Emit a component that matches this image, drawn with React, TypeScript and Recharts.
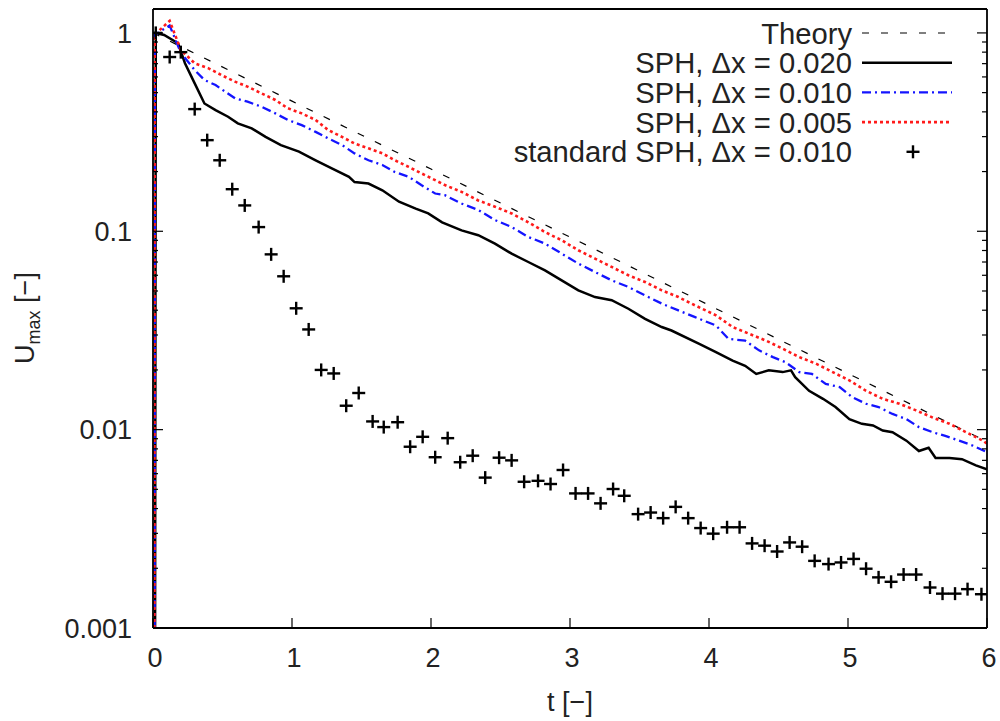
import React from "react";
import { ComposedChart, Line, Scatter, XAxis, YAxis, Customized } from "recharts";

// theory: straight line on log axis
const T_THEORY = [0, 1, 2, 3, 4, 5, 6];
const U_THEORY = [1, 0.453, 0.206, 0.0935, 0.0424, 0.0192, 0.0087];

// SPH, dx = 0.020 (black solid)
const T_020 = [0.015, 0.02, 0.08, 0.18, 0.23, 0.3, 0.37, 0.45, 0.54, 0.61, 0.71, 0.81, 0.92, 1.05, 1.17, 1.29, 1.41, 1.45, 1.55, 1.65, 1.77, 1.89, 1.98, 2.08, 2.22, 2.34, 2.46, 2.58, 2.7, 2.82, 2.94, 3.06, 3.18, 3.3, 3.42, 3.54, 3.66, 3.73, 3.93, 4.05, 4.17, 4.26, 4.34, 4.43, 4.53, 4.59, 4.62, 4.72, 4.82, 4.91, 5.01, 5.1, 5.18, 5.25, 5.32, 5.42, 5.51, 5.58, 5.63, 5.73, 5.82, 5.92, 6.0];
const U_020 = [0.001, 1.0, 0.977, 0.887, 0.703, 0.557, 0.441, 0.408, 0.378, 0.35, 0.33, 0.299, 0.272, 0.252, 0.228, 0.207, 0.188, 0.177, 0.174, 0.161, 0.141, 0.13, 0.123, 0.111, 0.101, 0.0955, 0.0867, 0.0771, 0.07, 0.0635, 0.0566, 0.0504, 0.0466, 0.0449, 0.0407, 0.0362, 0.0329, 0.0316, 0.0271, 0.0246, 0.0223, 0.021, 0.0191, 0.0199, 0.0195, 0.0199, 0.0184, 0.0157, 0.0143, 0.013, 0.0113, 0.0107, 0.0105, 0.0099, 0.0097, 0.0088, 0.0078, 0.0081, 0.0072, 0.0072, 0.0071, 0.0066, 0.0063];

// SPH, dx = 0.010 (blue dash-dot)
const T_010 = [0.012, 0.014, 0.12, 0.2, 0.3, 0.37, 0.45, 0.52, 0.59, 0.68, 0.78, 0.88, 0.97, 1.07, 1.17, 1.26, 1.36, 1.45, 1.55, 1.65, 1.74, 1.84, 1.93, 2.03, 2.1, 2.22, 2.34, 2.46, 2.58, 2.7, 2.82, 2.94, 3.06, 3.18, 3.3, 3.42, 3.54, 3.66, 3.78, 3.9, 4.05, 4.14, 4.26, 4.36, 4.46, 4.55, 4.65, 4.74, 4.84, 4.94, 5.03, 5.13, 5.22, 5.32, 5.42, 5.51, 5.61, 5.7, 5.8, 5.9, 6.0];
const U_010 = [0.001, 0.98, 1.09, 0.793, 0.65, 0.579, 0.546, 0.505, 0.468, 0.45, 0.425, 0.393, 0.364, 0.343, 0.317, 0.294, 0.272, 0.247, 0.228, 0.216, 0.199, 0.188, 0.171, 0.155, 0.152, 0.138, 0.128, 0.114, 0.105, 0.0936, 0.0867, 0.0772, 0.0687, 0.0623, 0.0566, 0.0524, 0.0475, 0.0432, 0.0399, 0.0369, 0.0335, 0.0287, 0.0281, 0.0251, 0.0232, 0.0219, 0.0195, 0.0191, 0.017, 0.0164, 0.0146, 0.0135, 0.013, 0.012, 0.0113, 0.0103, 0.0097, 0.0093, 0.0088, 0.0083, 0.0077];

// SPH, dx = 0.005 (red dotted)
const T_005 = [0.01, 0.012, 0.12, 0.2, 0.3, 0.4, 0.49, 0.59, 0.68, 0.78, 0.88, 0.97, 1.07, 1.17, 1.26, 1.36, 1.45, 1.55, 1.65, 1.74, 1.84, 1.93, 2.03, 2.1, 2.22, 2.34, 2.46, 2.58, 2.7, 2.82, 2.94, 3.06, 3.18, 3.3, 3.42, 3.54, 3.66, 3.78, 3.9, 4.05, 4.17, 4.29, 4.41, 4.53, 4.65, 4.77, 4.89, 5.01, 5.13, 5.25, 5.37, 5.49, 5.61, 5.73, 5.85, 5.97, 6.0];
const U_005 = [0.001, 0.98, 1.15, 0.821, 0.703, 0.663, 0.614, 0.568, 0.536, 0.496, 0.459, 0.417, 0.393, 0.364, 0.324, 0.299, 0.277, 0.262, 0.247, 0.228, 0.211, 0.196, 0.181, 0.171, 0.158, 0.143, 0.133, 0.123, 0.111, 0.0991, 0.0901, 0.0802, 0.0728, 0.0661, 0.06, 0.0555, 0.0504, 0.0466, 0.0423, 0.0377, 0.0329, 0.0304, 0.0281, 0.0256, 0.0232, 0.0215, 0.0195, 0.0177, 0.0157, 0.0143, 0.0135, 0.0125, 0.0115, 0.0107, 0.0097, 0.0088, 0.0085];

// standard SPH, dx = 0.010 (crosses)
const T_STD = [0.02, 0.12, 0.2, 0.3, 0.39, 0.48, 0.57, 0.66, 0.76, 0.85, 0.94, 1.03, 1.12, 1.21, 1.3, 1.39, 1.48, 1.58, 1.66, 1.76, 1.85, 1.94, 2.03, 2.12, 2.21, 2.3, 2.39, 2.49, 2.58, 2.67, 2.77, 2.86, 2.95, 3.04, 3.13, 3.22, 3.31, 3.39, 3.49, 3.58, 3.67, 3.76, 3.85, 3.94, 4.03, 4.13, 4.22, 4.31, 4.4, 4.49, 4.58, 4.67, 4.76, 4.86, 4.95, 5.04, 5.13, 5.22, 5.31, 5.4, 5.49, 5.59, 5.68, 5.77, 5.86, 5.96];
const U_STD = [1.0, 0.756, 0.8, 0.413, 0.288, 0.228, 0.163, 0.135, 0.105, 0.0765, 0.0593, 0.0409, 0.032, 0.02, 0.0192, 0.0132, 0.0153, 0.011, 0.0103, 0.0109, 0.0082, 0.0092, 0.00726, 0.00906, 0.00685, 0.00739, 0.00573, 0.00722, 0.007, 0.00546, 0.00552, 0.00532, 0.00626, 0.00477, 0.00477, 0.00425, 0.00502, 0.00464, 0.00375, 0.00382, 0.00358, 0.00408, 0.00358, 0.00319, 0.00299, 0.00322, 0.00322, 0.00267, 0.0026, 0.00243, 0.0027, 0.00257, 0.00218, 0.0021, 0.00214, 0.00223, 0.00199, 0.0018, 0.00171, 0.00186, 0.00186, 0.0016, 0.00149, 0.00149, 0.00157, 0.00148];

const X_TICKS = [0, 1, 2, 3, 4, 5, 6];
const Y_TICKS = [
  0.001, 0.002, 0.003, 0.004, 0.005, 0.006, 0.007, 0.008, 0.009,
  0.01, 0.02, 0.03, 0.04, 0.05, 0.06, 0.07, 0.08, 0.09,
  0.1, 0.2, 0.3, 0.4, 0.5, 0.6, 0.7, 0.8, 0.9, 1,
];
const Y_MAJOR = [1, 0.1, 0.01, 0.001];
const Y_MAJOR_LABELS = ["1", "0.1", "0.01", "0.001"];

const LEGEND_LABELS = [
  "Theory",
  "SPH, \u0394x = 0.020",
  "SPH, \u0394x = 0.010",
  "SPH, \u0394x = 0.005",
  "standard SPH, \u0394x = 0.010",
];

const FONT = "'Liberation Sans', Arial, sans-serif";
const TEXT = "#222";

const zip = (t: number[], u: number[]) => t.map((v, i) => ({ t: v, u: u[i] }));

const theoryData = zip(T_THEORY, U_THEORY);
const sph020Data = zip(T_020, U_020);
const sph010Data = zip(T_010, U_010);
const sph005Data = zip(T_005, U_005);
const stdData = zip(T_STD, U_STD);

const STYLES = [
  { stroke: "#000", strokeWidth: 1.2, strokeDasharray: "7 12" },
  { stroke: "#000", strokeWidth: 2.5 },
  { stroke: "#1414ff", strokeWidth: 2.3, strokeDasharray: "9 4 2 4" },
  { stroke: "#ff1a1a", strokeWidth: 2.6, strokeDasharray: "3 3" },
];

const Plus = ({ cx, cy }: any) => {
  if (cx == null || cy == null) return null;
  return (
    <g stroke="#000" strokeWidth={2.4}>
      <line x1={cx - 6.5} x2={cx + 6.5} y1={cy} y2={cy} />
      <line x1={cx} x2={cx} y1={cy - 6.5} y2={cy + 6.5} />
    </g>
  );
};

const majorIndex = (v: number) => Y_MAJOR.findIndex((m) => Math.abs(m - v) < 1e-9);

const LeftTick = (props: any) => {
  const { x, y, payload } = props;
  const idx = majorIndex(payload.value);
  return (
    <g>
      <line x1={x} x2={x + (idx >= 0 ? 10 : 5)} y1={y} y2={y} stroke="#000" strokeWidth={1.2} />
      {idx >= 0 && (
        <text x={x - 21} y={y} dy="0.36em" textAnchor="end" fontSize={27} fontFamily={FONT} fill={TEXT}>
          {Y_MAJOR_LABELS[idx]}
        </text>
      )}
    </g>
  );
};

const RightTick = (props: any) => {
  const { x, y, payload } = props;
  const idx = majorIndex(payload.value);
  return <line x1={x} x2={x - (idx >= 0 ? 10 : 5)} y1={y} y2={y} stroke="#000" strokeWidth={1.2} />;
};

const BottomTick = (props: any) => {
  const { x, y, payload } = props;
  return (
    <g>
      <line x1={x} x2={x} y1={y} y2={y - 10} stroke="#000" strokeWidth={1.2} />
      <text x={x + 2} y={y + 39} textAnchor="middle" fontSize={27} fontFamily={FONT} fill={TEXT}>
        {payload.value}
      </text>
    </g>
  );
};

const TopTick = (props: any) => {
  const { x, y } = props;
  return <line x1={x} x2={x} y1={y} y2={y + 10} stroke="#000" strokeWidth={1.2} />;
};

const Decorations = () => (
  <g fontFamily={FONT} fill={TEXT}>
    {LEGEND_LABELS.map((label, i) => {
      const cy = 33 + i * 29.7;
      return (
        <g key={label}>
          <text x={852} y={cy} dy="0.36em" textAnchor="end" fontSize={29.2}>
            {label}
          </text>
          {i < 4 ? (
            <line x1={862} x2={952} y1={cy} y2={cy} {...STYLES[i]} />
          ) : (
            <Plus cx={913} cy={cy} />
          )}
        </g>
      );
    })}
    <text x={570} y={711} textAnchor="middle" fontSize={27}>
      t [−]
    </text>
    <text transform="translate(34, 318) rotate(-90)" textAnchor="middle" fontSize={27}>
      U
      <tspan fontSize={18} dy={6}>max</tspan>
      <tspan dy={-6}> [−]</tspan>
    </text>
  </g>
);

const axisLine = { stroke: "#000", strokeWidth: 1.8 };

export default function App() {
  return (
    <div style={{ position: "absolute", left: 0, top: 0, width: 1000, height: 721, background: "#fff" }}>
      <ComposedChart width={1000} height={721} margin={{ top: 8, right: 12, bottom: 33, left: 13 }}>
        <XAxis
          dataKey="t"
          type="number"
          domain={[0, 6]}
          ticks={X_TICKS}
          interval={0}
          height={60}
          tickSize={0}
          tickMargin={0}
          tickLine={false}
          axisLine={axisLine}
          tick={<BottomTick />}
          allowDataOverflow
        />
        <XAxis
          xAxisId="top"
          orientation="top"
          type="number"
          domain={[0, 6]}
          ticks={X_TICKS}
          interval={0}
          height={1}
          tickSize={0}
          tickMargin={0}
          tickLine={false}
          axisLine={axisLine}
          tick={<TopTick />}
          allowDataOverflow
        />
        <YAxis
          type="number"
          scale="log"
          domain={[0.001, 1.32]}
          ticks={Y_TICKS}
          interval={0}
          width={140}
          tickSize={0}
          tickMargin={0}
          tickLine={false}
          axisLine={axisLine}
          tick={<LeftTick />}
          allowDataOverflow
        />
        <YAxis
          yAxisId="right"
          orientation="right"
          type="number"
          scale="log"
          domain={[0.001, 1.32]}
          ticks={Y_TICKS}
          interval={0}
          width={1}
          tickSize={0}
          tickMargin={0}
          tickLine={false}
          axisLine={axisLine}
          tick={<RightTick />}
          allowDataOverflow
        />
        <Line data={theoryData} dataKey="u" type="linear" dot={false} {...STYLES[0]} isAnimationActive={false} />
        <Line data={sph020Data} dataKey="u" type="linear" dot={false} {...STYLES[1]} isAnimationActive={false} />
        <Line data={sph010Data} dataKey="u" type="linear" dot={false} {...STYLES[2]} isAnimationActive={false} />
        <Line data={sph005Data} dataKey="u" type="linear" dot={false} {...STYLES[3]} isAnimationActive={false} />
        <Scatter data={stdData} dataKey="u" shape={<Plus />} isAnimationActive={false} />
        <Customized component={Decorations} />
      </ComposedChart>
    </div>
  );
}
